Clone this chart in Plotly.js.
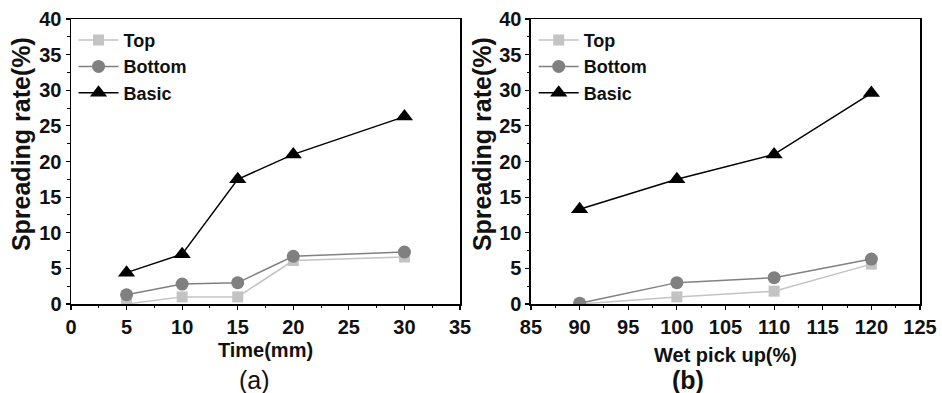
<!DOCTYPE html>
<html><head><meta charset="utf-8">
<script src="https://cdn.plot.ly/plotly-3.0.1.min.js"></script>
<style>html,body{margin:0;padding:0;background:#fff}</style>
</head><body><div id="chart" style="width:942px;height:393px"></div>
<script>
const timeX = [5, 10, 15, 20, 30];
const timeTop = [0, 1.0, 1.0, 6.1, 6.6];
const timeBottom = [1.3, 2.8, 3.0, 6.7, 7.3];
const timeBasic = [4.4, 7.0, 17.5, 21.0, 26.3];

const wetX = [90, 100, 110, 120];
const wetTop = [0, 1.0, 1.8, 5.6];
const wetBottom = [0.1, 3.0, 3.7, 6.3];
const wetBasic = [13.3, 17.5, 21.0, 29.6];

const seriesNames = ['Top', 'Bottom', 'Basic'];
const colors = ['#c3c3c3', '#808080', '#000000'];
const symbols = ['square', 'circle', 'triangle-up'];
const sizes = [11, 13, 15];

function mk(x, y, i, xa, ya, leg) {
  return {x: x, y: y, name: seriesNames[i], type: 'scatter', mode: 'lines+markers',
    xaxis: xa, yaxis: ya, legend: leg,
    line: {color: colors[i], width: 1.5},
    marker: {symbol: symbols[i], size: sizes[i], color: colors[i]}};
}
const data = [
  mk(timeX, timeTop, 0, 'x', 'y', 'legend'),
  mk(timeX, timeBottom, 1, 'x', 'y', 'legend'),
  mk(timeX, timeBasic, 2, 'x', 'y', 'legend'),
  mk(wetX, wetTop, 0, 'x2', 'y2', 'legend2'),
  mk(wetX, wetBottom, 1, 'x2', 'y2', 'legend2'),
  mk(wetX, wetBasic, 2, 'x2', 'y2', 'legend2')
];
const FAM = 'Liberation Sans, Arial, sans-serif';
const tf = {family: FAM, size: 20, color: '#111', weight: 'bold'};
const minorCfg = {ticks: 'outside', ticklen: 2.5, dtick: 2.5, tickcolor: '#000', tickwidth: 1};
function ax(extra) {
  return Object.assign({showline: true, linecolor: '#000', linewidth: 1.5, mirror: true,
    ticks: 'outside', ticklen: 4, tickwidth: 1.2, tickcolor: '#000', showgrid: false, zeroline: false,
    tickfont: tf, minor: minorCfg}, extra);
}
const titleFontX = {family: FAM, size: 20, color: '#111', weight: 'bold'};
const titleFontY = {family: FAM, size: 25, color: '#111', weight: 'bold'};
const legFont = {family: FAM, size: 18, color: '#111', weight: 'bold'};
const layout = {
  width: 942, height: 393,
  margin: {l: 71, r: 22, t: 19, b: 89},
  paper_bgcolor: '#fff', plot_bgcolor: '#fff',
  showlegend: true,
  xaxis: ax({domain: [0, 0.4582], range: [0, 35], dtick: 5,
    title: {text: 'Time(mm)', font: titleFontX, standoff: 6}}),
  yaxis: ax({range: [0, 40], dtick: 5}),
  xaxis2: ax({domain: [0.5418, 1], anchor: 'y2', range: [85, 125], dtick: 5,
    title: {text: 'Wet pick up(%)', font: titleFontX, standoff: 11}}),
  yaxis2: ax({anchor: 'x2', range: [0, 40], dtick: 5}),
  legend: {x: 0.003, y: 0.99, xanchor: 'left', yanchor: 'top', bgcolor: 'rgba(0,0,0,0)', font: legFont, tracegroupgap: 0, itemwidth: 40},
  legend2: {x: 0.545, y: 0.99, xanchor: 'left', yanchor: 'top', bgcolor: 'rgba(0,0,0,0)', font: legFont, tracegroupgap: 0, itemwidth: 40},
  annotations: [
    {text: 'Spreading rate(%)', textangle: -90, x: -0.0589, xref: 'paper', y: 0.561, yref: 'paper',
      xanchor: 'center', yanchor: 'middle', showarrow: false, font: titleFontY},
    {text: 'Spreading rate(%)', textangle: -90, x: 0.4841, xref: 'paper', y: 0.561, yref: 'paper',
      xanchor: 'center', yanchor: 'middle', showarrow: false, font: titleFontY},
    {text: '(a)', x: 0.196, xref: 'paper', y: -0.265, yref: 'paper', showarrow: false, yanchor: 'middle',
      font: {family: FAM, size: 25, color: '#111'}},
    {text: '(b)', x: 0.748, xref: 'paper', y: -0.268, yref: 'paper', showarrow: false, yanchor: 'middle',
      font: {family: FAM, size: 25, color: '#111', weight: 'bold'}}
  ]
};
Plotly.newPlot('chart', data, layout, {displayModeBar: false, staticPlot: true});
</script></body></html>
